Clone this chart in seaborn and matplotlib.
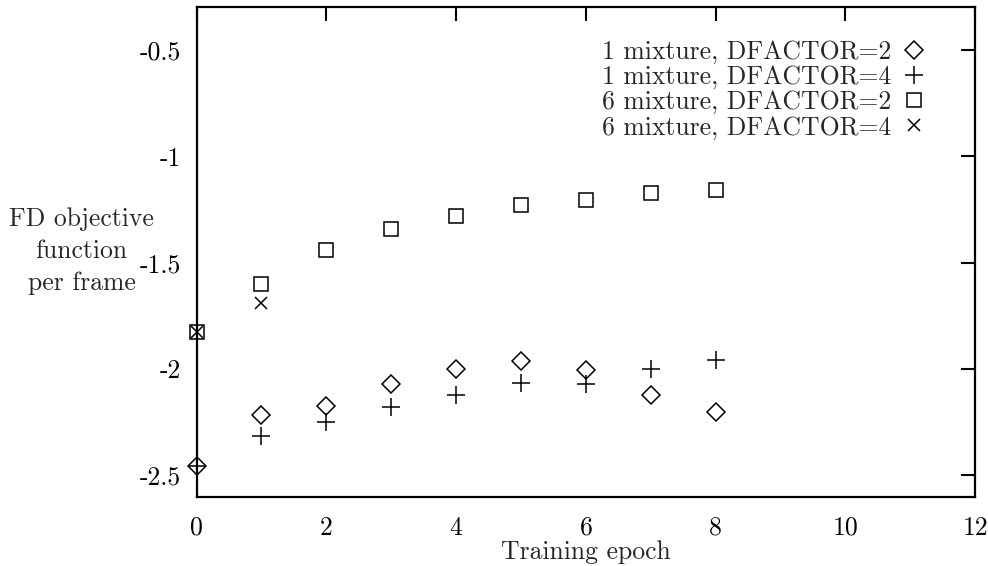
import matplotlib
matplotlib.use("Agg")
import matplotlib.pyplot as plt
import seaborn as sns
import numpy as np
import pandas as pd

epochs = [0, 1, 2, 3, 4, 5, 6, 7, 8]
mix1_df2 = [-2.455, -2.217, -2.175, -2.072, -1.999, -1.964, -2.005, -2.121, -2.200]
mix1_df4 = [-2.455, -2.313, -2.250, -2.180, -2.121, -2.067, -2.070, -2.000, -1.958]
mix6_df2 = [-1.828, -1.602, -1.441, -1.344, -1.281, -1.230, -1.206, -1.174, -1.160]
epochs_short = [0, 1]
mix6_df4 = [-1.828, -1.691]

labels = ["1 mixture, DFACTOR=2", "1 mixture, DFACTOR=4",
          "6 mixture, DFACTOR=2", "6 mixture, DFACTOR=4"]
xticks = [0, 2, 4, 6, 8, 10, 12]
yticks = [-2.5, -2, -1.5, -1, -0.5]
ytick_labels = ["-2.5", "-2", "-1.5", "-1", "-0.5"]
ylabel_lines = ["FD objective", "function", "per frame"]

sns.set_theme(style="white")
plt.rcParams["font.family"] = ["cmr10", "DejaVu Serif"]
plt.rcParams["axes.unicode_minus"] = False
plt.rcParams["mathtext.fontset"] = "cm"

FS = 18.5

fig = plt.figure(figsize=(9.88, 5.66), dpi=100)
ax = fig.add_axes([0.199, 0.1224, 0.788, 0.8647])

series = [
    (epochs, mix1_df2, "D", 9.0, labels[0]),
    (epochs, mix1_df4, "+", 12.3, labels[1]),
    (epochs, mix6_df2, "s", 10.6, labels[2]),
    (epochs_short, mix6_df4, "x", 8.9, labels[3]),
]
for xs, ys, mk, ms, lab in series:
    df = pd.DataFrame({"x": xs, "y": ys})
    sns.lineplot(data=df, x="x", y="y", ax=ax, marker=mk, linestyle="none",
                 color="black", markerfacecolor="none", markeredgecolor="black",
                 markersize=ms, markeredgewidth=1.1, label=lab, clip_on=False,
                 estimator=None)

ax.set_xlim(0, 12)
ax.set_ylim(-2.6, -0.3)
ax.set_xticks(xticks)
ax.set_xticklabels([str(t) for t in xticks])
ax.set_yticks(yticks)
ax.set_yticklabels(ytick_labels)
ax.tick_params(direction="in", length=10, width=1.5, top=True, right=True,
               labelsize=FS, colors="black")
ax.tick_params(axis="x", pad=14)
ax.tick_params(axis="y", pad=11)
for sp in ax.spines.values():
    sp.set_linewidth(1.6)
    sp.set_color("black")
    sp.set_visible(True)

ax.set_xlabel("Training epoch", fontsize=FS, labelpad=0)
ax.set_ylabel("")
for i, line in enumerate(ylabel_lines):
    ypx = 219 + 32 * i
    fig.text(0.0825, 1 - ypx / 566, line, ha="center", va="center", fontsize=FS)

leg = ax.legend(loc="upper right", bbox_to_anchor=(0.94, 0.933),
                markerfirst=False, frameon=False, fontsize=FS,
                handletextpad=0.35, labelspacing=0.05, borderaxespad=0,
                borderpad=0, handlelength=1.1)

fig.savefig("out.png", dpi=100)
